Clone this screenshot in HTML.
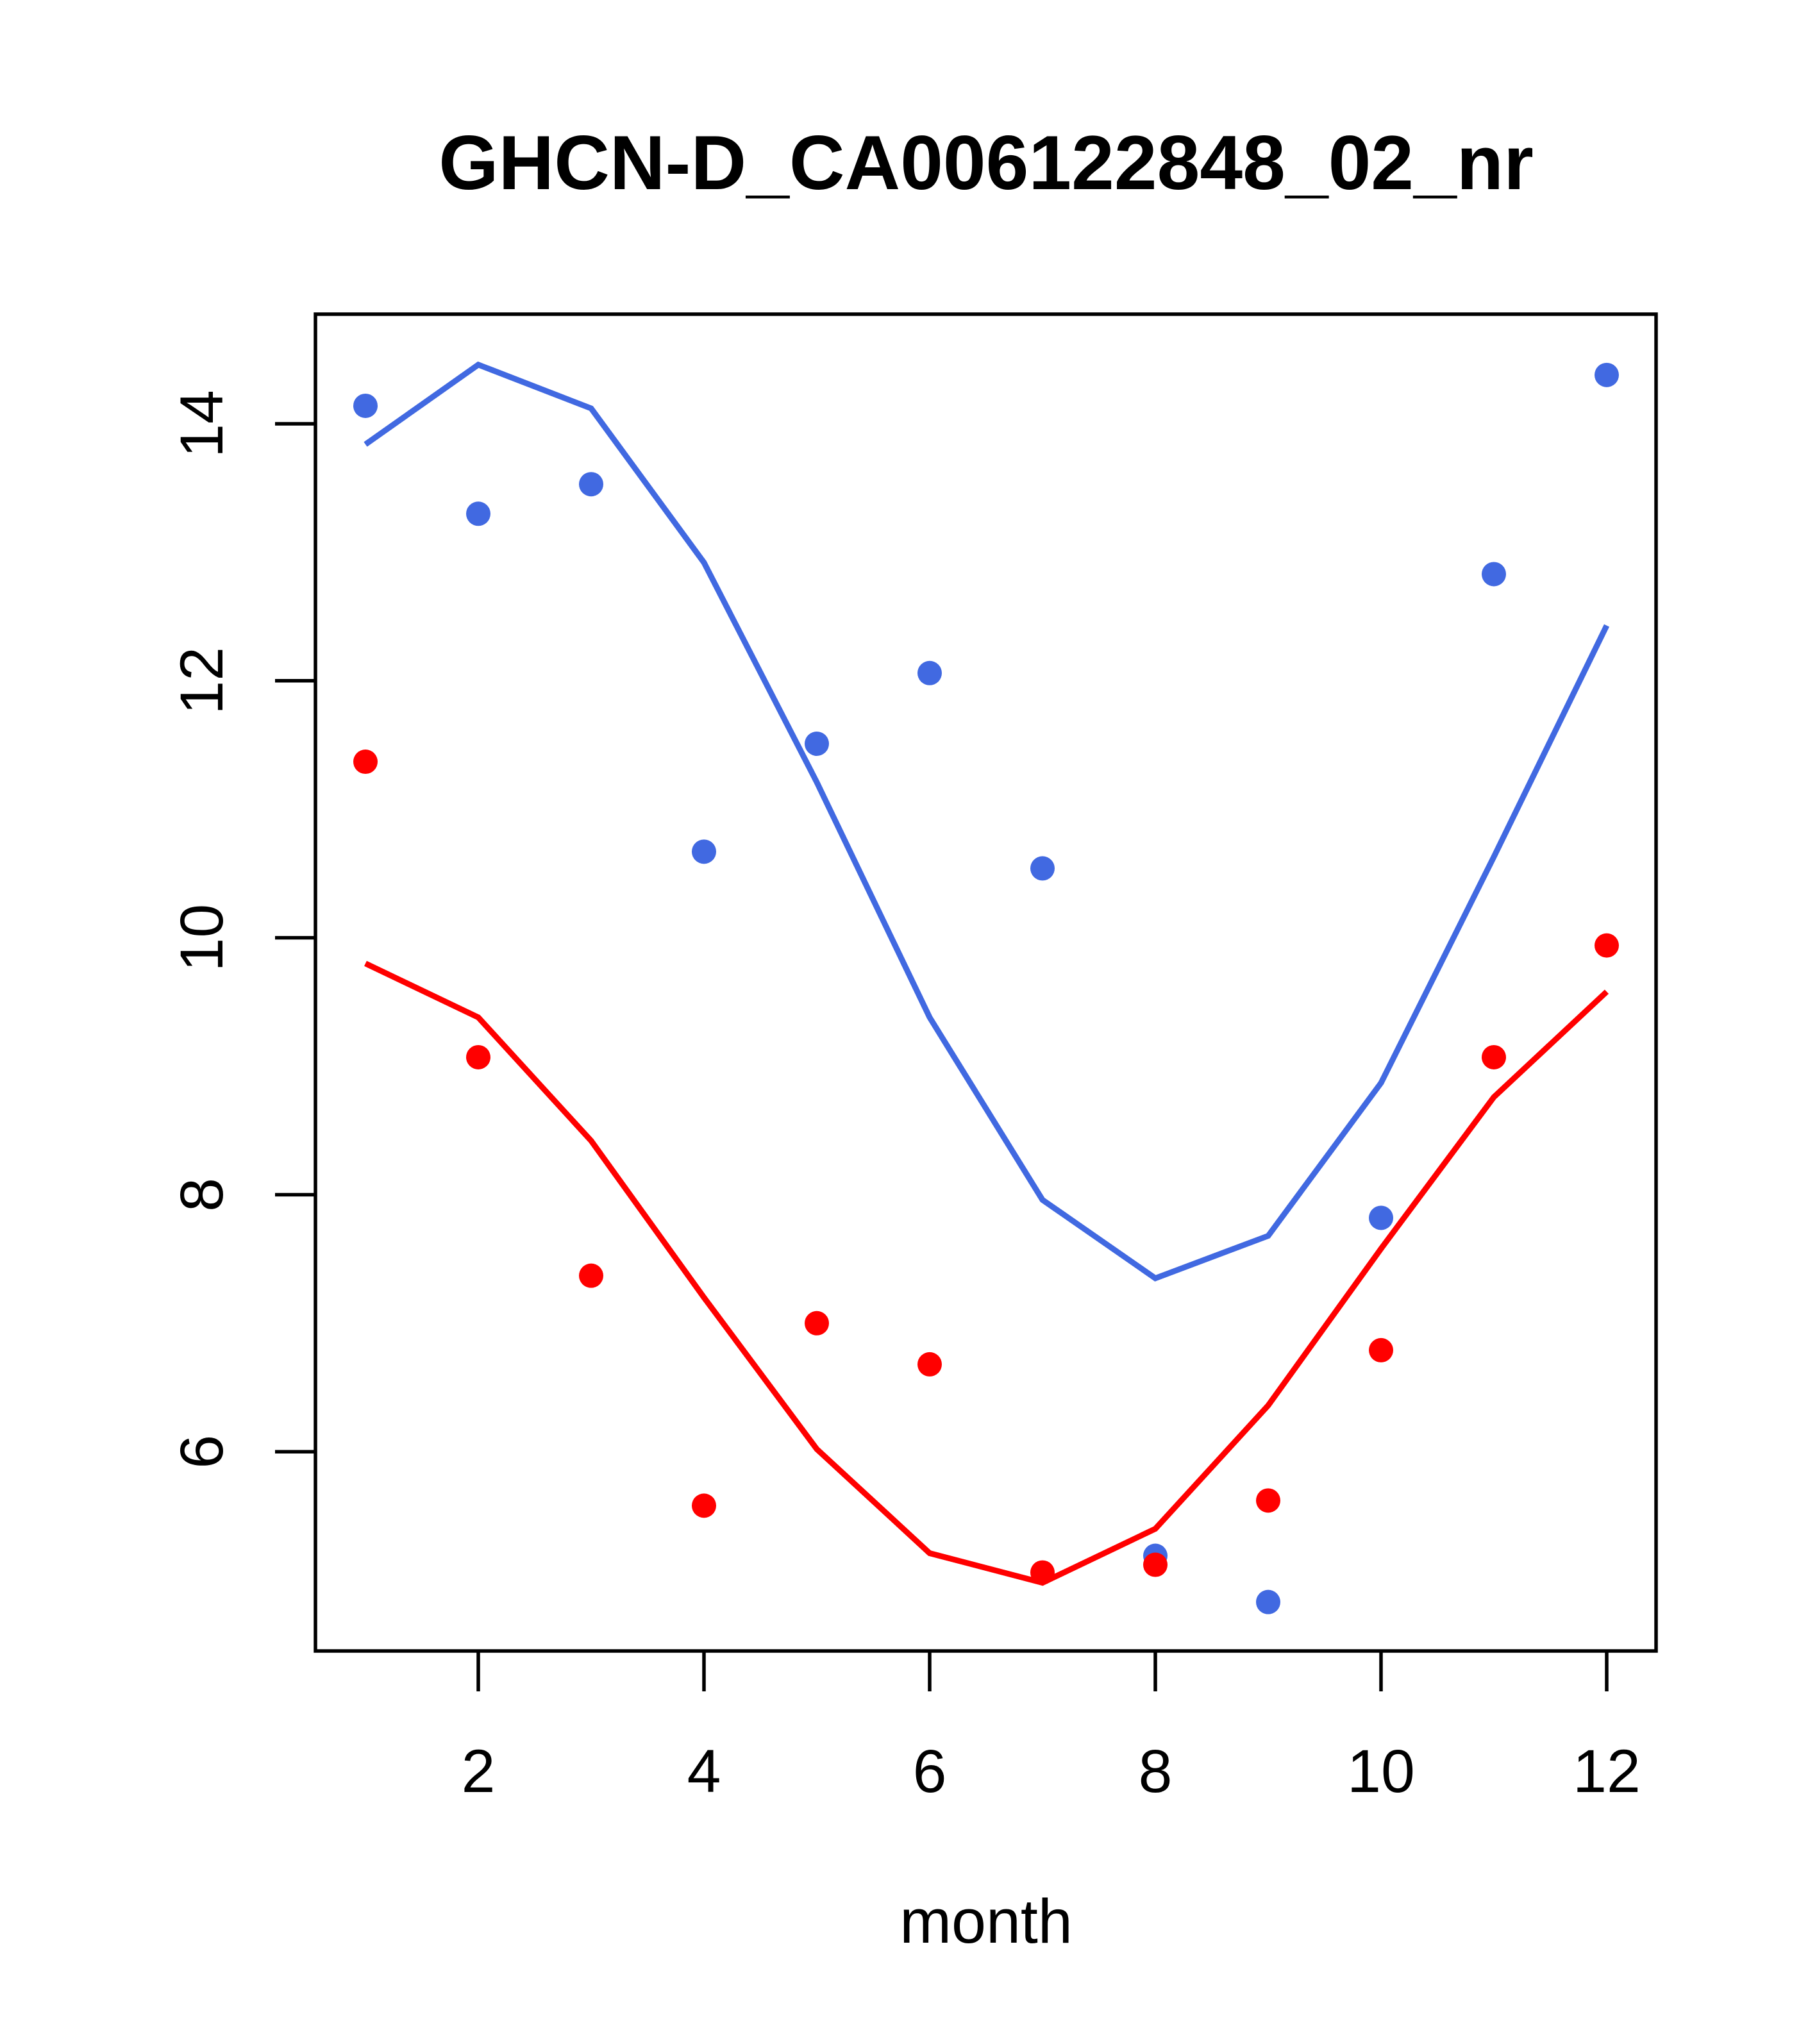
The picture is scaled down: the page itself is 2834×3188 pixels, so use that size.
<!DOCTYPE html>
<html><head><meta charset="utf-8"><style>body{margin:0;background:#fff}svg{display:block}text{font-family:"Liberation Sans",sans-serif}</style></head>
<body>
<svg id="chart" width="2834" height="3188" xmlns="http://www.w3.org/2000/svg">
<text x="1538" y="295" font-size="120" font-weight="bold" text-anchor="middle">GHCN-D_CA006122848_02_nr</text>
<rect x="492" y="490" width="2091" height="2085" fill="none" stroke="#000" stroke-width="5.5"/>
<text x="1538" y="3030" font-size="97" text-anchor="middle">month</text>
<g id="axes"></g><g id="series"></g>
</svg>
<script>
const months=[1,2,3,4,5,6,7,8,9,10,11,12];
const bluePoints=[14.14,13.30,13.53,10.67,11.51,12.06,10.54,5.19,4.83,7.82,12.83,14.38];
const blueLine=[13.84,14.46,14.12,12.92,11.21,9.38,7.96,7.35,7.68,8.87,10.63,12.43];
const redPoints=[11.37,9.07,7.37,5.58,7.00,6.68,5.06,5.12,5.62,6.79,9.07,9.94];
const redLine=[9.80,9.38,8.42,7.20,6.02,5.21,4.98,5.40,6.36,7.58,8.76,9.58];
const xTicks=[2,4,6,8,10,12];
const yTicks=[6,8,10,12,14];
const NS="http://www.w3.org/2000/svg";
function X(m){return 570+(m-1)*176;}
function Y(v){return 661+(14-v)*200.4;}
const ax=document.getElementById('axes'),se=document.getElementById('series');
function mk(t,a,p){const e=document.createElementNS(NS,t);for(const k in a)e.setAttribute(k,a[k]);p.appendChild(e);return e;}
xTicks.forEach(t=>{
 const l=mk('line',{x1:X(t),x2:X(t),y1:2575,y2:2638,stroke:'#000','stroke-width':5.5},ax);
 
 
 const s=mk('text',{x:X(t),y:2795,'font-size':95,'text-anchor':'middle'},ax);s.textContent=t;
 
 
});
yTicks.forEach(t=>{
 const l=mk('line',{x1:429,x2:492,y1:Y(t),y2:Y(t),stroke:'#000','stroke-width':5.5},ax);
 
 
 const s=mk('text',{x:347,y:Y(t),'font-size':95,'text-anchor':'middle',transform:`rotate(-90 347 ${Y(t)})`},ax);s.textContent=t;
 
 
});
function line(vals,c,n){
 const p=mk('polyline',{points:vals.map((v,i)=>X(months[i])+','+Y(v)).join(' '),fill:'none',stroke:c,'stroke-width':9},se);
 
 
}
function pts(vals,c,n){
 vals.forEach((v,i)=>{const e=mk('circle',{cx:X(months[i]),cy:Y(v),r:19,fill:c},se);
 
 });
}
line(blueLine,'#4169E1','blue-line');
line(redLine,'#FF0000','red-line');
pts(bluePoints,'#4169E1','blue-point');
pts(redPoints,'#FF0000','red-point');
</script>
</body></html>
